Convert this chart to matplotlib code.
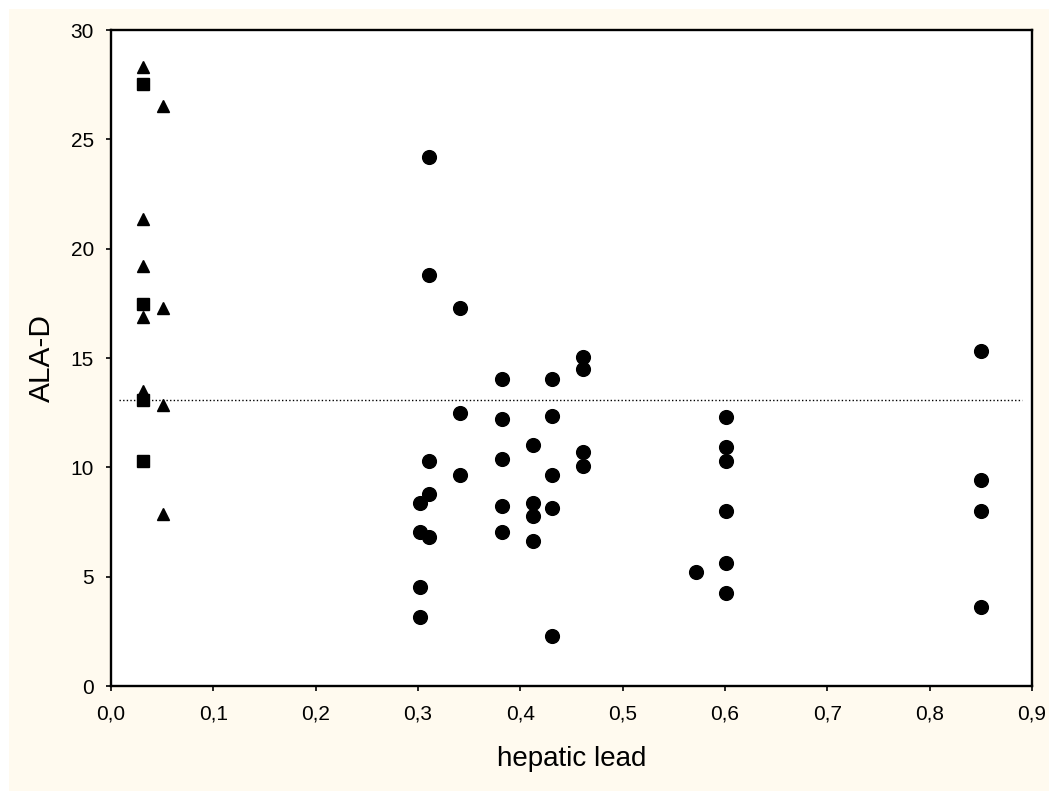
import matplotlib
matplotlib.use("Agg")
import matplotlib.pyplot as plt
from matplotlib.patches import Rectangle

plt.rcParams['font.family'] = ['Liberation Sans', 'DejaVu Sans']

# --- data ---
tri_x = [0.031, 0.031, 0.031, 0.031, 0.031, 0.051, 0.051, 0.051, 0.051]
tri_y = [28.30, 21.37, 19.23, 16.86, 13.51, 26.51, 17.27, 12.86, 7.88]

sq_x = [0.031, 0.031, 0.031, 0.031]
sq_y = [27.54, 17.48, 13.06, 10.27]

circ_x = ([0.302] * 4 + [0.311] * 5 + [0.341] * 3 + [0.382] * 5 + [0.412] * 4
          + [0.431] * 5 + [0.461] * 4 + [0.572] + [0.601] * 6 + [0.850] * 4)
circ_y = [8.37, 7.04, 4.53, 3.16,
          24.20, 18.81, 10.29, 8.78, 6.81,
          17.28, 12.48, 9.65,
          14.04, 12.21, 10.38, 8.23, 7.04,
          11.02, 8.37, 7.77, 6.63,
          14.04, 12.35, 9.65, 8.14, 2.29,
          15.05, 14.50, 10.70, 10.06,
          5.20,
          12.32, 10.91, 10.27, 7.99, 5.61, 4.24,
          15.33, 9.41, 7.99, 3.60]

ref_y = 13.08
ref_x0, ref_x1 = 0.0078, 0.890

x_ticks = [0.0, 0.1, 0.2, 0.3, 0.4, 0.5, 0.6, 0.7, 0.8, 0.9]
x_tick_labels = ['0,0', '0,1', '0,2', '0,3', '0,4', '0,5', '0,6', '0,7', '0,8', '0,9']
y_ticks = [0, 5, 10, 15, 20, 25, 30]

# --- figure ---
W, H = 1049, 791
fig = plt.figure(figsize=(W / 100, H / 100), dpi=100, facecolor='white')
fig.patches.append(Rectangle((9 / W, 0), 1, (H - 9) / H, transform=fig.transFigure,
                             facecolor='#FFFAEF', edgecolor='none', zorder=-10))

ax = fig.add_axes([111 / W, (H - 686) / H, 921 / W, 656 / H])
ax.set_facecolor('white')

ax.hlines(ref_y, ref_x0, ref_x1, colors='black', linestyles=(0, (1, 1.6)), linewidth=1.0, zorder=1)

ax.plot(tri_x, tri_y, linestyle='none', marker='^', markersize=9.3, color='black', zorder=3)
ax.plot(sq_x, sq_y, linestyle='none', marker='s', markersize=9.2, color='black', zorder=3)
ax.plot(circ_x, circ_y, linestyle='none', marker='o', markersize=9.9, color='black', zorder=3)

ax.set_xlim(0, 0.9)
ax.set_ylim(0, 30)
ax.set_xticks(x_ticks)
ax.set_xticklabels(x_tick_labels)
ax.set_yticks(y_ticks)

for s in ax.spines.values():
    s.set_linewidth(1.7)
    s.set_color('black')

ax.tick_params(axis='both', direction='out', length=3.8, width=1.2, labelsize=15,
               colors='black')
ax.tick_params(axis='x', pad=9.6)
ax.tick_params(axis='y', pad=8.5)

ax.set_xlabel('hepatic lead', fontsize=20, labelpad=16)
ax.set_ylabel('ALA-D', fontsize=21.5, labelpad=10.5)

fig.savefig('out.png', dpi=100, facecolor=fig.get_facecolor())
